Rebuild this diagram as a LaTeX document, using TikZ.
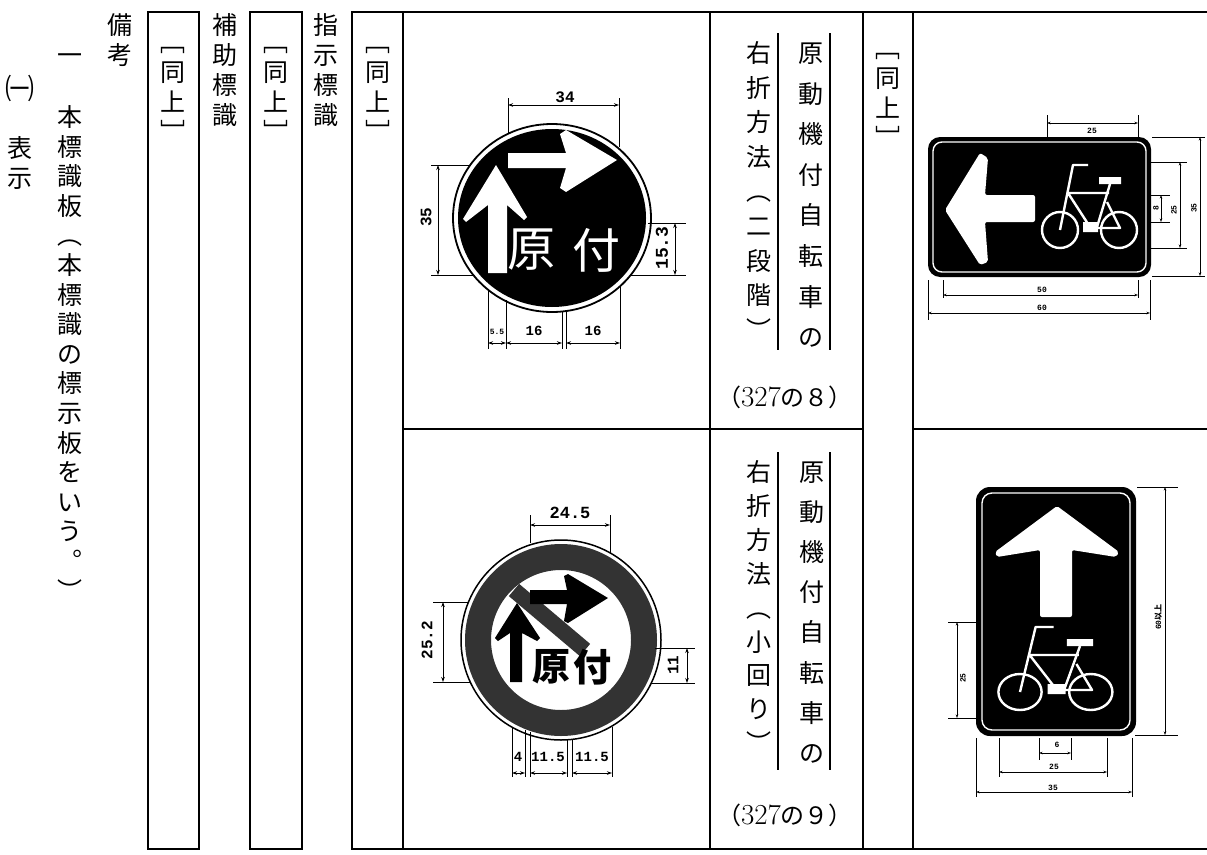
\documentclass[tikz,border=0pt]{standalone}
\usepackage{fontspec}
\newfontfamily\jp{Noto Sans CJK JP}
\newfontfamily\dimfont{Liberation Mono}
\usetikzlibrary{arrows.meta}

\tikzset{
  tbl/.style={line width=2.4pt},
  side/.style={line width=1.6pt},
  vchar/.style={inner sep=0pt, font=\jp\fontsize{25}{25}\selectfont, text height=22pt, text depth=3pt},
  extln/.style={line width=0.9pt},
  dimln/.style={line width=0.9pt, {Stealth[length=5pt,width=3.5pt]}-{Stealth[length=5pt,width=3.5pt]}},
  sdimln/.style={line width=0.6pt, {Stealth[length=3.5pt,width=2.5pt]}-{Stealth[length=3.5pt,width=2.5pt]}},
  dimlbl/.style={inner sep=0pt, font=\dimfont\bfseries\fontsize{16}{16}\selectfont},
  sdimlbl/.style={inner sep=0pt, font=\dimfont\bfseries\fontsize{8}{8}\selectfont},
  bike/.pic={
    \draw[white, line width=2.4pt] (0,0) circle[radius=18pt] (59,0) circle[radius=18pt];
    \draw[white, line width=2.4pt, line join=round]
      (0,0) -- (13,-65) -- (28,-65)
      (8,-37) -- (49,-37) (8,-37) -- (30,-3) (50,-46) -- (37,-3)
      (47,-28) -- (60,-2) -- (37,-2);
    \fill[white] (39,-53) rectangle (61,-46) (23,-8) rectangle (38,2);
  }
}

% vertical column of characters: name, x, first y, pitch, list
\newcommand\vcol[5]{%
  \foreach \ch [count=\k from 0] in {#5}
    \node[vchar] (#1-\k) at (#2, #3+#4*\k) {\ch};}

\begin{document}
\begin{tikzpicture}[x=1pt, y=-1pt]
\useasboundingbox (0,0) rectangle (1207,854);

% table
\draw[tbl] (148,12) rectangle (199,849);
\draw[tbl] (250,12) rectangle (302,849);
\draw[tbl] (1207,12) -- (352,12) -- (352,849) -- (1207,849);
\draw[tbl] (403,12) -- (403,849) (710,12) -- (710,849)
           (863,12) -- (863,849) (913,12) -- (913,849);
\draw[tbl] (403,429) -- (863,429) (913,429) -- (1207,429);

% left texts
\node[inner sep=0pt, font=\jp\fontsize{29}{29}\selectfont] (kakko1) at (20,88) {㈠};
\vcol{hyoji}{20}{148}{30}{表,示}
\node[vchar] (ichi) at (70,55) {一};
\vcol{honbun}{70}{117}{29.6}{本,標,識,板,︵,本,標,識,の,標,示,板,を,い,う,︒,︶}
\vcol{bikou}{120}{25}{30}{備,考}
\vcol{dojoA}{173}{42}{30}{﹇,同,上,﹈}
\vcol{hojo}{225}{25}{30}{補,助,標,識}
\vcol{dojoB}{276}{42}{30}{﹇,同,上,﹈}
\vcol{shiji}{326}{25}{30}{指,示,標,識}
\vcol{dojoC}{378}{42}{30}{﹇,同,上,﹈}
\vcol{dojoD}{888}{48}{30}{﹇,同,上,﹈}

% names of the signs
\vcol{gentsukiA}{811}{53}{40.6}{原,動,機,付,自,転,車,の}
\vcol{usetsuA}{759}{53}{34.6}{右,折,方,法,︵,二,段,階,︶}
\draw[side] (778,33) -- (778,350) (830,33) -- (830,350);
\node[inner sep=0pt, font=\fontsize{29}{29}\selectfont] (noA) at (785,397) {{\jp\fontsize{24}{24}\selectfont （}327{\jp\fontsize{24}{24}\selectfont の８）}};
\vcol{gentsukiB}{812}{472}{40.1}{原,動,機,付,自,転,車,の}
\vcol{usetsuB}{759}{472}{33.9}{右,折,方,法,︵,小,回,り,︶}
\draw[side] (778,452) -- (778,770) (830,452) -- (830,770);
\node[inner sep=0pt, font=\fontsize{29}{29}\selectfont] (noB) at (785,815) {{\jp\fontsize{24}{24}\selectfont （}327{\jp\fontsize{24}{24}\selectfont の９）}};

% sign 327-8
\fill (552,218) ellipse [x radius=94pt, y radius=89pt];
\draw[line width=1.8pt] (552,218) ellipse [x radius=99pt, y radius=94pt];
\fill[white] (496,165) -- (527,217) -- (524,220) -- (507,205) -- (507,273) -- (488,273)
  -- (488,205) -- (466,222) -- (463,219) -- cycle;
\fill[white] (508,153) -- (566,153) -- (560,134) -- (566,130) -- (617,160) -- (566,192)
  -- (560,188) -- (566,168) -- (508,168) -- cycle;
\node[inner sep=0pt, text=white, font=\jp\fontsize{48}{48}\selectfont] (genA) at (531,250) {原};
\node[inner sep=0pt, text=white, font=\jp\fontsize{48}{48}\selectfont] (tsukiA) at (596,250) {付};
\draw[dimln] (508,105) -- (619,105);
\draw[extln] (508,98) -- (508,133) (619,98) -- (619,147);
\node[dimlbl] (d34) at (565,97) {34};
\draw[dimln] (438,165) -- (438,275);
\draw[extln] (431,165) -- (470,165) (431,275) -- (475,275);
\node[dimlbl, rotate=90] (d35) at (426,217) {35};
\draw[dimln] (675,223) -- (675,275);
\draw[extln] (648,223) -- (686,223) (630,275) -- (686,275);
\node[dimlbl, font=\dimfont\bfseries\fontsize{18}{18}\selectfont, rotate=90] (d153) at (662,248) {15.3};
\draw[extln] (488,290) -- (488,349) (506,300) -- (506,349) (562,312) -- (562,349)
  (566,312) -- (566,349) (620,286) -- (620,349);
\draw[dimln] (488,343) -- (506,343);
\draw[dimln] (506,343) -- (562,343);
\draw[dimln] (566,343) -- (620,343);
\node[dimlbl, font=\dimfont\bfseries\fontsize{8}{8}\selectfont] (d55) at (497,332) {5.5};
\node[dimlbl, font=\dimfont\bfseries\fontsize{14}{14}\selectfont] (d16a) at (534,331) {16};
\node[dimlbl, font=\dimfont\bfseries\fontsize{14}{14}\selectfont] (d16b) at (593,331) {16};

% sign 327-9
\draw[line width=1.5pt] (561,640) circle[radius=100pt];
\fill[black!80, even odd rule] (561,640) circle[radius=96pt] (561,640) circle[radius=70pt];
\draw[black!80, line width=16pt] (514,590) -- (585,650);
\fill (517,603) -- (540,638) -- (537,641) -- (522,633) -- (522,682) -- (510,682)
  -- (510,633) -- (498,641) -- (495,638) -- cycle;
\fill (530,590) -- (567,590) -- (564,576) -- (568,574) -- (608,598) -- (568,623)
  -- (564,621) -- (567,604) -- (530,604) -- cycle;
\node[inner sep=0pt, font=\jp\bfseries\fontsize{38}{38}\selectfont] (genB) at (551,667) {原};
\node[inner sep=0pt, font=\jp\bfseries\fontsize{38}{38}\selectfont] (tsukiB) at (592,667) {付};
\draw[dimln] (530,525) -- (610,525);
\draw[extln] (530,515) -- (530,543) (610,515) -- (610,553);
\node[dimlbl, font=\dimfont\bfseries\fontsize{17}{17}\selectfont] (d245) at (570,513) {24.5};
\draw[dimln] (443,602) -- (443,682);
\draw[extln] (433,602) -- (468,602) (433,682) -- (471,682);
\node[dimlbl, rotate=90] (d252) at (427,640) {25.2};
\draw[dimln] (687,648) -- (687,683);
\draw[extln] (655,648) -- (695,648) (651,683) -- (695,683);
\node[dimlbl, rotate=90] (d11) at (673,665) {11};
\draw[extln] (512,728) -- (512,777) (525,730) -- (525,777) (530,732) -- (530,777)
  (567,740) -- (567,777) (572,740) -- (572,777) (612,727) -- (612,777);
\draw[dimln] (512,773) -- (525,773);
\draw[dimln] (530,773) -- (567,773);
\draw[dimln] (572,773) -- (612,773);
\node[dimlbl, font=\dimfont\bfseries\fontsize{14}{14}\selectfont] (d4) at (518,757) {4};
\node[dimlbl, font=\dimfont\bfseries\fontsize{14}{14}\selectfont] (d115a) at (548,757) {11.5};
\node[dimlbl, font=\dimfont\bfseries\fontsize{14}{14}\selectfont] (d115b) at (592,757) {11.5};

% left-arrow bicycle sign
\fill[rounded corners=12pt] (928,137) rectangle (1151,277);
\draw[white, line width=1.4pt, rounded corners=9pt] (933,142) rectangle (1146,272);
\fill[white, rounded corners=2pt] (945,210) -- (980,153) -- (988,158) -- (985,195) -- (1035,195)
  -- (1035,222) -- (985,222) -- (988,262) -- (980,265) -- cycle;
\pic at (1060,230) {bike};
\draw[sdimln] (1047,123) -- (1138,123);
\draw[extln, line width=0.6pt] (1047,115) -- (1047,137) (1138,115) -- (1138,137);
\node[sdimlbl] (s25a) at (1092,131) {25};
\draw[sdimln] (1200,137) -- (1200,276);
\draw[extln, line width=0.6pt] (1152,137) -- (1205,137) (1152,276) -- (1205,276);
\node[sdimlbl, rotate=90] (s35a) at (1194,208) {35};
\draw[sdimln] (1180,162) -- (1180,248);
\draw[extln, line width=0.6pt] (1151,162) -- (1187,162) (1151,248) -- (1187,248);
\node[sdimlbl, rotate=90] (s25b) at (1174,210) {25};
\draw[sdimln] (1161,195) -- (1161,222);
\draw[extln, line width=0.6pt] (1151,195) -- (1170,195) (1151,222) -- (1170,222);
\node[sdimlbl, rotate=90] (s8) at (1156,208) {8};
\draw[sdimln] (943,295) -- (1138,295);
\draw[extln, line width=0.6pt] (943,280) -- (943,298) (1138,280) -- (1138,298);
\node[sdimlbl] (s50) at (1042,290) {50};
\draw[sdimln] (928,313) -- (1150,313);
\draw[extln, line width=0.6pt] (928,280) -- (928,320) (1150,280) -- (1150,320);
\node[sdimlbl] (s60) at (1042,308) {60};

% up-arrow bicycle sign
\fill[rounded corners=14pt] (976,487) rectangle (1136,736);
\draw[white, line width=1.4pt, rounded corners=10pt] (982,493) rectangle (1130,730);
\fill[white, rounded corners=2pt] (1057,506) -- (1119,552) -- (1116,557) -- (1072,550) -- (1072,617)
  -- (1040,617) -- (1040,550) -- (997,557) -- (995,552) -- cycle;
\pic[xscale=1.2] at (1020,692) {bike};
\draw[sdimln] (1165,487) -- (1165,735);
\draw[extln, line width=0.6pt] (1137,487) -- (1178,487) (1135,735) -- (1178,735);
\node[sdimlbl, rotate=90] (s60b) at (1158,617) {60{\jp 以上}};
\draw[sdimln] (957,622) -- (957,718);
\draw[extln, line width=0.6pt] (948,622) -- (977,622) (948,718) -- (977,718);
\node[sdimlbl, rotate=90] (s25c) at (963,678) {25};
\draw[sdimln] (1039,753) -- (1071,753);
\draw[extln, line width=0.6pt] (1039,738) -- (1039,760) (1071,738) -- (1071,760);
\node[sdimlbl] (s6) at (1057,745) {6};
\draw[sdimln] (999,772) -- (1107,772);
\draw[extln, line width=0.6pt] (999,738) -- (999,777) (1107,738) -- (1107,777);
\node[sdimlbl] (s25d) at (1054,767) {25};
\draw[sdimln] (976,792) -- (1132,792);
\draw[extln, line width=0.6pt] (976,738) -- (976,797) (1132,738) -- (1132,797);
\node[sdimlbl] (s35b) at (1053,788) {35};
\end{tikzpicture}
\end{document}
